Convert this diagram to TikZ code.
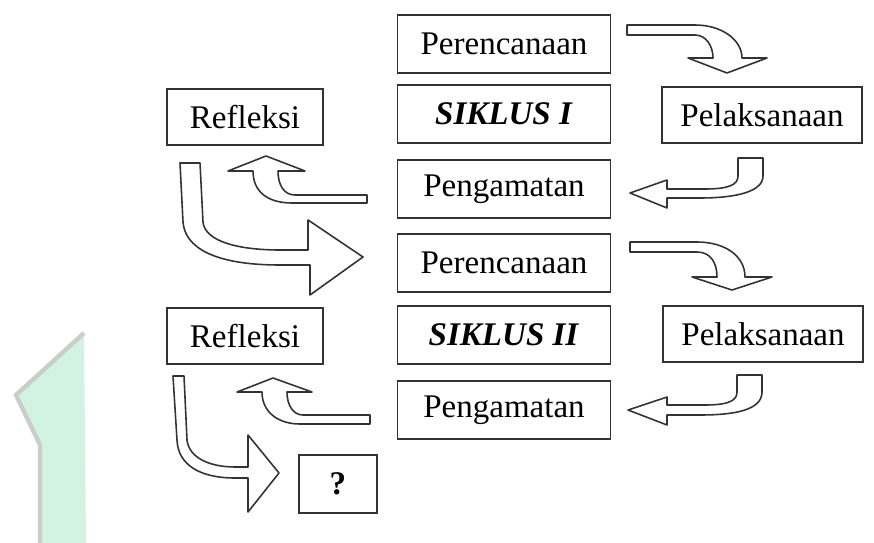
\documentclass[tikz,border=0pt]{standalone}
\usepackage{fontspec}
\setmainfont{Liberation Serif}
\definecolor{wmgreen}{RGB}{210,243,226}
\definecolor{wmgray}{RGB}{204,204,204}
\begin{document}
\begin{tikzpicture}[x=0.02cm, y=-0.02cm,
    box/.style={draw=black!80, line width=1.1pt, inner sep=0pt,
      font=\fontsize{18.8}{22}\selectfont},
    stage/.style={box, minimum width=4.26cm, minimum height=1.15cm},
    side/.style={box, minimum height=1.12cm},
    blockarrow/.style={draw=black!80, fill=white, line width=0.9pt, line join=round}]
  \useasboundingbox (0,0) rectangle (874,543);
  % watermark on the left
  \fill[wmgreen] (84,333) -- (16,395) -- (40,445) -- (40,543) -- (86,543) -- cycle;
  \draw[wmgray, line width=2.5pt] (84,333) -- (16,395) -- (40,445) -- (40,543);
  % middle column
  \node[stage] (per1) at (504,44) {Perencanaan};
  \node[stage] (sik1) at (504,114) {\textbf{\textit{SIKLUS I}}};
  \node[stage] (pem1) at (504,189) {Pengamatan};
  \node[stage] (per2) at (504,263) {Perencanaan};
  \node[stage] (sik2) at (504,335) {\textbf{\textit{SIKLUS II}}};
  \node[stage] (pem2) at (504,410) {Pengamatan};
  % side boxes
  \node[side, minimum width=3.12cm] (ref1) at (245,117) {Refleksi};
  \node[side, minimum width=4cm] (pel1) at (762,115) {Pelaksanaan};
  \node[side, minimum width=3.12cm] (ref2) at (245,336) {Refleksi};
  \node[side, minimum width=4cm] (pel2) at (763,334) {Pelaksanaan};
  \node[box, minimum width=1.56cm, minimum height=1.16cm] (ask) at (338,484) {\textbf{?}};
  % cycle one
  \draw[blockarrow] (627,25) -- (695,25) .. controls (722,25) and (742,40) .. (742,58)
    -- (767,58) -- (727,73) -- (688,58) -- (713,58)
    .. controls (713,46) and (706,35) .. (695,35) -- (627,35) -- cycle;
  \draw[blockarrow] (738,158) -- (763,158) -- (763,176) .. controls (763,192) and (735,198) .. (700,198)
    -- (667,198) -- (667,208) -- (630,193) -- (667,180) -- (667,189) -- (705,189)
    .. controls (728,189) and (738,185) .. (738,176) -- cycle;
  \draw[blockarrow] (367,195) -- (295,195) .. controls (284,195) and (278,185) .. (278,171)
    -- (305,171) -- (266,156) -- (228,171) -- (253,171)
    .. controls (253,192) and (268,203) .. (292,203) -- (367,203) -- cycle;
  \draw[blockarrow] (180,163) -- (200,163) -- (203,222) .. controls (205,242) and (240,250) .. (280,250)
    -- (308,250) -- (308,220) -- (363,257) -- (310,295) -- (310,265) -- (280,265)
    .. controls (215,265) and (185,248) .. (183,222) -- cycle;
  % cycle two
  \draw[blockarrow] (630,242) -- (697,242) .. controls (725,242) and (745,256) .. (745,277)
    -- (772,277) -- (732,290) -- (692,277) -- (717,277)
    .. controls (717,262) and (710,252) .. (697,252) -- (630,252) -- cycle;
  \draw[blockarrow] (737,375) -- (762,375) -- (762,392) .. controls (762,410) and (735,415) .. (700,415)
    -- (667,415) -- (667,425) -- (628,410) -- (667,397) -- (667,405) -- (705,405)
    .. controls (730,405) and (737,400) .. (737,392) -- cycle;
  \draw[blockarrow] (370,415) -- (303,415) .. controls (293,415) and (287,405) .. (287,392)
    -- (312,392) -- (273,378) -- (237,392) -- (262,392)
    .. controls (262,412) and (278,424) .. (300,424) -- (370,424) -- cycle;
  \draw[blockarrow] (173,376) -- (184,376) -- (187,440) .. controls (189,458) and (210,467) .. (235,467)
    -- (248,467) -- (248,435) -- (279,473) -- (248,512) -- (248,478) -- (235,478)
    .. controls (200,478) and (178,465) .. (177,440) -- cycle;
\end{tikzpicture}
\end{document}
